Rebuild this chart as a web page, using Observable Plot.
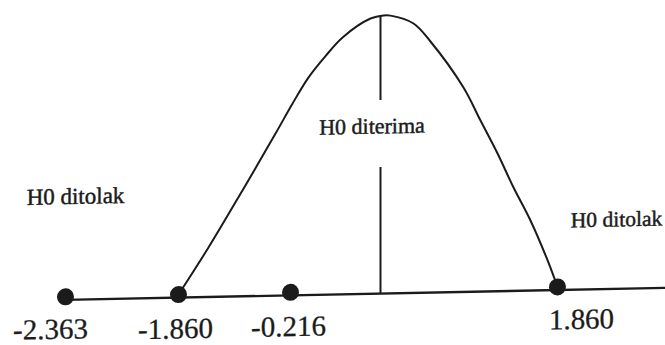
<!DOCTYPE html>
<html>
<head>
<meta charset="utf-8">
<script src="https://cdn.jsdelivr.net/npm/d3@7"></script>
<script src="https://cdn.jsdelivr.net/npm/@observablehq/plot@0.6"></script>
<style>
  html, body { margin: 0; padding: 0; background: #ffffff; }
  #chart { width: 665px; height: 345px; overflow: hidden; }
  #chart svg, #chart svg text { font-family: 'Liberation Serif', 'Times New Roman', serif; }
</style>
</head>
<body>
<div id="chart"></div>
<script>
// Critical / test values marked on the axis
const pointLabels = ["-2.363", "-1.860", "-0.216", "1.860"];
const pointValues = [-2.363, -1.860, -0.216, 1.860];

// Region labels
const acceptLabel = "H0 diterima";
const rejectLabel = "H0 ditolak";

// Hand-drawn acceptance curve (z value, relative height)
const curveZ = [-1.860, -1.420, -0.921, -0.436, -0.211, -0.173, -0.132, -0.091, -0.024, 0.032, 0.105, 0.347, 0.525, 0.872, 1.051, 1.230, 1.398, 1.576, 1.755, 1.860];
const curveH = [0.011, 0.178, 0.381, 0.583, 0.690, 0.782, 0.858, 0.924, 0.990, 1.0, 0.999, 0.969, 0.903, 0.735, 0.615, 0.495, 0.372, 0.252, 0.108, 0.011];

const curve = curveZ.map((z, i) => ({z, h: curveH[i]}));
const points = pointValues.map((z, i) => ({z, h: 0, label: pointLabels[i]}));

const ink = "#1b1b1b";
const serif = "'Liberation Serif', 'Times New Roman', serif";
// schematic (non-uniform) horizontal layout of the hand-drawn figure
const xDomain = [-2.363, -1.860, -0.216, 0, 1.860];
const xRange = [65, 178, 290, 380, 557];
const labelNudge = [-15, -3, -2, 24];
const labelDy = [29.5, 31.5, 31.5, 30];

const textStyle = {fill: ink, stroke: ink, strokeWidth: 0.45, fontFamily: serif};

const chart = Plot.plot({
  width: 665,
  height: 345,
  marginLeft: 65,
  marginRight: 0,
  marginTop: 0,
  marginBottom: 0,
  x: {type: "linear", domain: xDomain, range: xRange, axis: null},
  y: {domain: [0, 1], range: [294, 16], axis: null},
  style: {fontFamily: serif, background: "#ffffff", overflow: "visible"},
  marks: [
    Plot.ruleY([0], {stroke: ink, strokeWidth: 2.4}),
    Plot.line(curve, {x: "z", y: "h", curve: "catmull-rom", stroke: ink, strokeWidth: 2}),
    Plot.ruleX([0], {y1: () => 0, y2: () => 0.453, stroke: ink, strokeWidth: 2}),
    Plot.ruleX([0], {y1: () => 0.694, y2: () => 1, stroke: ink, strokeWidth: 2}),
    Plot.dot(points, {x: "z", y: "h", r: 8.5, fill: ink, stroke: "none", dy: -3}),
    ...points.map((p, i) => Plot.text([p], {
      x: "z", y: "h", text: "label", dx: labelNudge[i], dy: labelDy[i],
      fontSize: 29, ...textStyle, strokeWidth: 0.3
    })),
    Plot.text([{z: 0, h: 0.601}], {x: "z", y: "h", text: () => acceptLabel, dx: -8.5, fontSize: 22, ...textStyle}),
    Plot.text([{z: pointValues[0], h: 0.371}], {x: "z", y: "h", text: () => rejectLabel, dx: 10, fontSize: 23, ...textStyle}),
    Plot.text([{z: pointValues[3], h: 0.249}], {x: "z", y: "h", text: () => rejectLabel, dx: 59, fontSize: 21.5, ...textStyle})
  ]
});
chart.style.transformOrigin = "332.5px 172.5px";
chart.style.transform = "skewY(-1.15deg)";
document.getElementById("chart").appendChild(chart);
</script>
</body>
</html>
